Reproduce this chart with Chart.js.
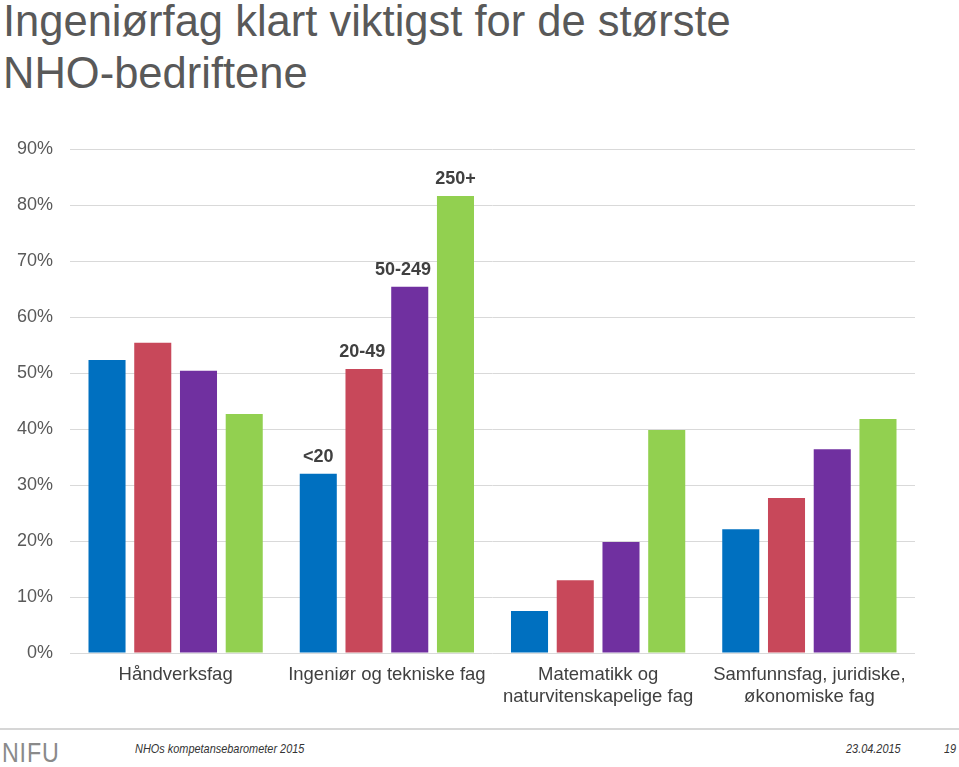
<!DOCTYPE html>
<html><head><meta charset="utf-8">
<script src="https://cdn.jsdelivr.net/npm/chart.js@4"></script>
<style>
html,body{margin:0;padding:0;background:#fff;width:959px;height:767px;overflow:hidden;font-family:"Liberation Sans",Arial,sans-serif;}
#title{position:absolute;left:3px;top:-5px;font-size:43.5px;line-height:52px;color:#595959;white-space:nowrap;}
#wrap{position:absolute;left:0;top:120px;width:959px;height:600px;}
#rule{position:absolute;left:0;top:728px;width:959px;height:2px;background:#d6d6d6;}
#logo{position:absolute;left:2px;top:737px;font-size:28px;color:#8a8a8a;transform:scaleX(0.83);transform-origin:left top;letter-spacing:1px;}
.ft{position:absolute;top:741px;font-size:13px;font-style:italic;color:#333;transform:scaleX(0.84);transform-origin:left top;white-space:nowrap;}
</style></head><body>
<div id="title">Ingeniørfag klart viktigst for de største<br>NHO-bedriftene</div>
<div id="wrap"><canvas id="c" width="959" height="600"></canvas></div>
<div id="rule"></div>
<div id="logo">NIFU</div>
<div class="ft" style="left:135px">NHOs kompetansebarometer 2015</div>
<div class="ft" style="left:846px">23.04.2015</div>
<div class="ft" style="left:944px">19</div>
<script>
const categories = [
  ["Håndverksfag"],
  ["Ingeniør og tekniske fag"],
  ["Matematikk og", "naturvitenskapelige fag"],
  ["Samfunnsfag, juridiske,", "økonomiske fag"]
];
const seriesNames = ["<20", "20-49", "50-249", "250+"];
const under20 = [52.3, 32.0, 7.5, 22.1];
const from20to49 = [55.4, 50.7, 13.0, 27.7];
const from50to249 = [50.4, 65.4, 19.8, 36.4];
const over250 = [42.7, 81.6, 39.8, 41.8];
const yTicks = [0, 10, 20, 30, 40, 50, 60, 70, 80, 90];
const colors = ["#0070C0", "#C8485A", "#7030A0", "#92D050"];

const seriesValues = [under20, from20to49, from50to249, over250];
const labelCategoryIndex = 1;

const seriesLabelPlugin = {
  id: "seriesLabels",
  afterDatasetsDraw(chart) {
    const ctx = chart.ctx;
    ctx.save();
    ctx.font = "bold 18px 'Liberation Sans', Arial, sans-serif";
    ctx.fillStyle = "#404040";
    ctx.textAlign = "center";
    ctx.textBaseline = "bottom";
    const n = chart.data.datasets.length;
    chart.data.datasets.forEach((ds, i) => {
      const el = chart.getDatasetMeta(i).data[labelCategoryIndex];
      const w = ctx.measureText(ds.label).width;
      let x = el.x;
      if (i < n - 1) {
        const next = chart.getDatasetMeta(i + 1).data[labelCategoryIndex];
        const nextLeft = next.x - next.width / 2;
        // keep the label clear of the taller neighbouring bar
        if (next.y < el.y - 10) x = Math.min(x, nextLeft - 6 - w / 2);
      }
      ctx.fillText(ds.label, x, el.y - 8);
    });
    ctx.restore();
  }
};

new Chart(document.getElementById("c"), {
  type: "bar",
  data: {
    labels: categories,
    datasets: seriesNames.map((n, i) => ({
      label: n,
      data: seriesValues[i],
      backgroundColor: colors[i],
      borderWidth: 0,
      barPercentage: 0.81,
      categoryPercentage: 0.866
    }))
  },
  options: {
    responsive: false,
    animation: false,
    layout: { padding: { top: 29, right: 44, left: 0, bottom: 0 } },
    plugins: { legend: { display: false }, tooltip: { enabled: false } },
    scales: {
      x: {
        grid: { display: false, drawTicks: false },
        border: { display: false },
        ticks: {
          color: "#404040",
          font: { family: "'Liberation Sans', Arial, sans-serif", size: 18.5, lineHeight: 1.2 },
          padding: 11,
          maxRotation: 0,
          autoSkip: false
        },
        afterFit(s) { s.height = 67; }
      },
      y: {
        min: 0, max: 90,
        afterBuildTicks(s) { s.ticks = yTicks.map(v => ({ value: v })); },
        grid: { color: "#d9d9d9", lineWidth: 1, drawTicks: false },
        border: { display: false },
        ticks: {
          color: "#595959",
          font: { family: "'Liberation Sans', Arial, sans-serif", size: 18 },
          padding: 17,
          callback: v => v + "%"
        },
        afterFit(s) { s.width = 70; }
      }
    }
  },
  plugins: [seriesLabelPlugin]
});
</script>
</body></html>
